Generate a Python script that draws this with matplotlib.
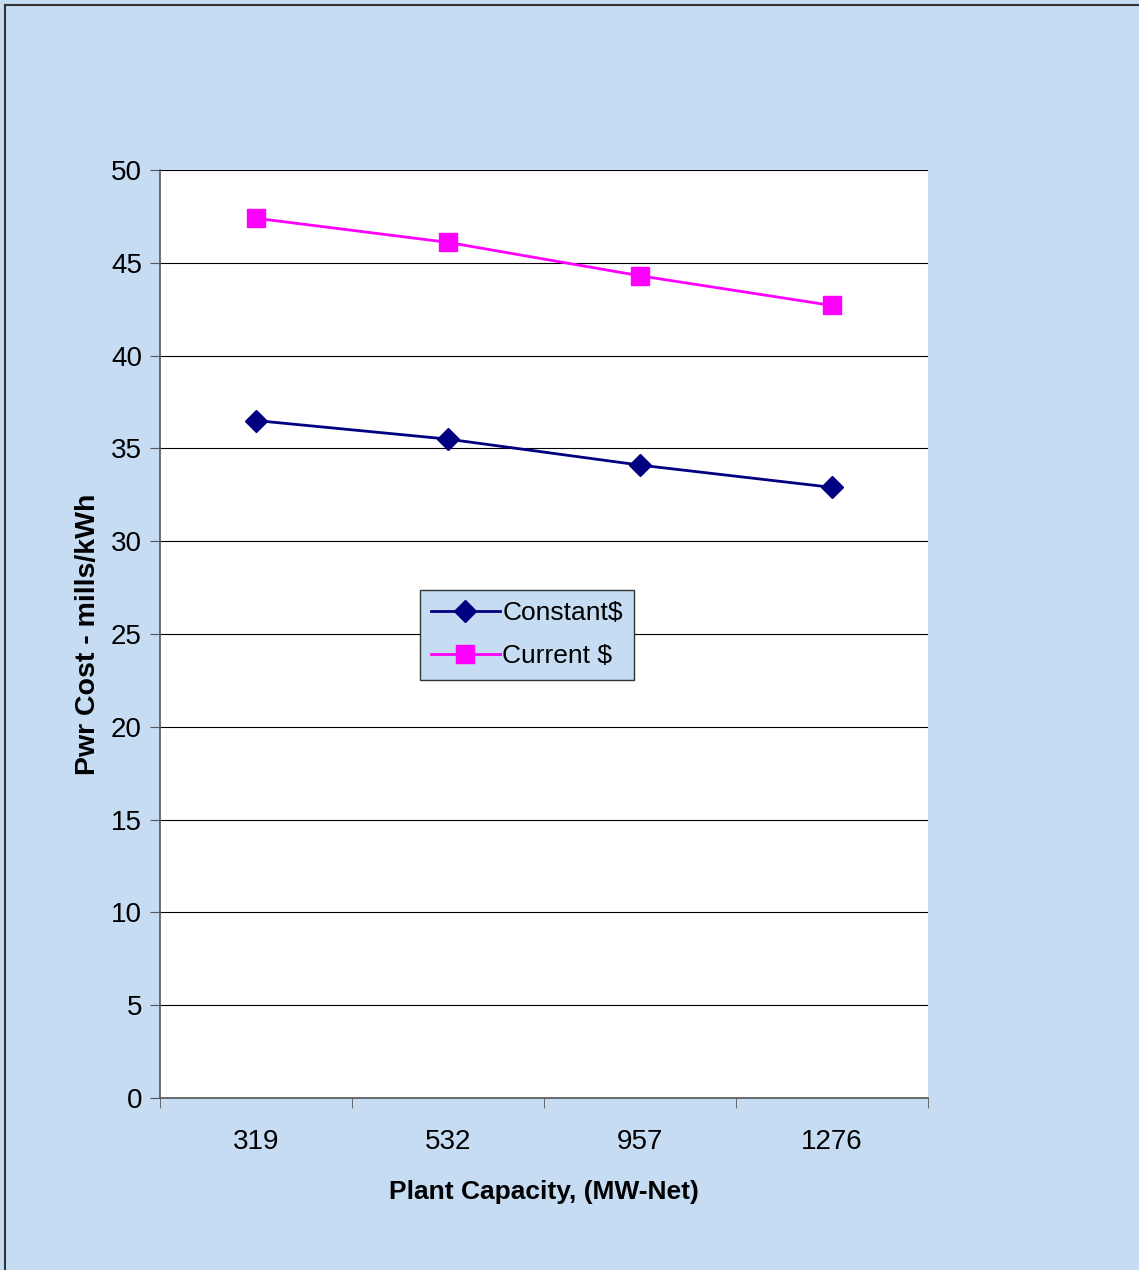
import matplotlib
matplotlib.use("Agg")
import matplotlib.pyplot as plt
from matplotlib.lines import Line2D

# plant capacity categories and power cost (mills/kWh)
capacity = ["319", "532", "957", "1276"]
constant_cost = [36.5, 35.5, 34.1, 32.9]
current_cost = [47.4, 46.1, 44.3, 42.7]

bg = "#C5DCF3"
plt.rcParams["font.family"] = ["Liberation Sans", "DejaVu Sans"]

fig = plt.figure(figsize=(11.39, 12.70), dpi=100, facecolor=bg)
ax = fig.add_axes([160 / 1139, 172 / 1270, 768 / 1139, 928 / 1270])
ax.set_facecolor("white")

x = range(len(capacity))
ax.plot(x, constant_cost, color="#000080", marker="D", markersize=11, lw=2, label="Constant$")
ax.plot(x, current_cost, color="#FF00FF", marker="s", markersize=13, lw=2, label="Current $")

ax.set_xlim(-0.5, len(capacity) - 0.5)
ax.set_ylim(0, 50)
ax.set_yticks(range(0, 51, 5))
ax.set_xticks(x)
ax.set_xticklabels(capacity)
ax.set_xticks([i - 0.5 for i in range(len(capacity) + 1)], minor=True)
ax.tick_params(axis="x", which="major", length=0, pad=22, labelsize=20)
ax.tick_params(axis="x", which="minor", length=7, direction="out", color="#555555")
ax.tick_params(axis="y", length=7, direction="out", color="#555555", labelsize=20, pad=6)
ax.yaxis.grid(True, color="#000000", lw=0.8)
ax.set_axisbelow(True)

for s in ["top", "right"]:
    ax.spines[s].set_visible(False)
for s in ["left", "bottom"]:
    ax.spines[s].set_color("#555555")
    ax.spines[s].set_linewidth(1.2)

ax.set_xlabel("Plant Capacity, (MW-Net)", fontsize=19, fontweight="bold", labelpad=18)
ax.set_ylabel("Pwr Cost - mills/kWh", fontsize=20.5, fontweight="bold", labelpad=7)

leg = ax.legend(loc="upper left", bbox_to_anchor=(0.3385, 0.547), borderaxespad=0,
                fontsize=19, fancybox=False, framealpha=1, facecolor=bg,
                edgecolor="#333333", handlelength=2.6, handletextpad=0.1,
                borderpad=0.42, labelspacing=0.72)
leg.get_frame().set_linewidth(1.0)

# outer border, left and top only
fig.add_artist(Line2D([5 / 1139, 5 / 1139], [0, 1 - 5 / 1270], color="#333333", lw=1.5))
fig.add_artist(Line2D([5 / 1139, 1], [1 - 5 / 1270, 1 - 5 / 1270], color="#333333", lw=1.5))

fig.savefig("out.png", dpi=100, facecolor=bg)
